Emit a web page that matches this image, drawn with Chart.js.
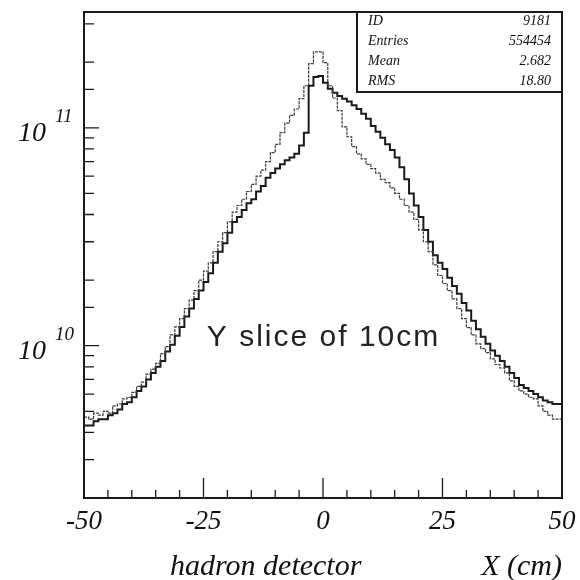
<!DOCTYPE html>
<html>
<head>
<meta charset="utf-8">
<script src="https://cdn.jsdelivr.net/npm/chart.js@4.4.1/dist/chart.umd.min.js"></script>
<style>
  html, body { margin: 0; padding: 0; background: #fff; }
</style>
</head>
<body>
<canvas id="chart" width="580" height="580"></canvas>
<script>
// 1 cm bins from -50 to 50
const binStart = -50
const binWidth = 1

// thin (dotted) histogram, sharp peak at 0
const sliceA = [
  4.5e9, 4.7e9, 4.6e9, 4.9e9, 4.8e9, 5.0e9, 4.9e9, 5.3e9, 5.4e9, 5.7e9,
  5.8e9, 6.1e9, 6.5e9, 6.8e9, 7.4e9, 7.8e9, 8.3e9, 9.2e9, 9.9e9, 1.12e10,
  1.22e10, 1.33e10, 1.48e10, 1.62e10, 1.79e10, 2.0e10, 2.2e10, 2.4e10, 2.7e10, 3.0e10,
  3.3e10, 3.7e10, 4.1e10, 4.4e10, 4.7e10, 5.1e10, 5.5e10, 6.0e10, 6.4e10, 7.0e10,
  7.7e10, 8.4e10, 9.5e10, 1.05e11, 1.14e11, 1.22e11, 1.36e11, 1.56e11, 1.97e11, 2.23e11,
  2.23e11, 1.99e11, 1.56e11, 1.37e11, 1.20e11, 1.01e11, 9.1e10, 8.2e10, 7.6e10, 7.2e10,
  6.8e10, 6.5e10, 6.2e10, 5.8e10, 5.6e10, 5.3e10, 5.0e10, 4.7e10, 4.4e10, 4.1e10,
  3.8e10, 3.4e10, 3.0e10, 2.7e10, 2.35e10, 2.1e10, 1.93e10, 1.79e10, 1.64e10, 1.48e10,
  1.33e10, 1.21e10, 1.12e10, 1.02e10, 9.7e9, 9.3e9, 8.7e9, 8.2e9, 7.9e9, 7.5e9,
  6.9e9, 6.5e9, 6.2e9, 6.0e9, 5.8e9, 5.7e9, 5.3e9, 5.0e9, 4.8e9, 4.6e9
]

// thick (solid) histogram, broader on the positive side
const sliceB = [
  4.1e9, 4.3e9, 4.3e9, 4.5e9, 4.6e9, 4.6e9, 4.8e9, 4.9e9, 5.1e9, 5.4e9,
  5.5e9, 5.8e9, 6.2e9, 6.5e9, 7.0e9, 7.5e9, 8.0e9, 8.5e9, 9.4e9, 1.01e10,
  1.11e10, 1.22e10, 1.36e10, 1.48e10, 1.64e10, 1.79e10, 1.96e10, 2.15e10, 2.4e10, 2.7e10,
  2.95e10, 3.3e10, 3.7e10, 3.9e10, 4.2e10, 4.5e10, 4.7e10, 5.1e10, 5.4e10, 5.9e10,
  6.2e10, 6.5e10, 6.8e10, 7.1e10, 7.3e10, 7.6e10, 8.3e10, 9.5e10, 1.56e11, 1.71e11,
  1.73e11, 1.61e11, 1.51e11, 1.45e11, 1.40e11, 1.36e11, 1.32e11, 1.27e11, 1.22e11, 1.16e11,
  1.10e11, 1.02e11, 9.6e10, 9.0e10, 8.4e10, 7.9e10, 7.3e10, 6.6e10, 5.8e10, 5.0e10,
  4.4e10, 3.9e10, 3.4e10, 3.0e10, 2.6e10, 2.4e10, 2.25e10, 2.05e10, 1.88e10, 1.73e10,
  1.57e10, 1.45e10, 1.30e10, 1.19e10, 1.10e10, 1.02e10, 9.5e9, 9.0e9, 8.5e9, 8.0e9,
  7.5e9, 7.1e9, 6.6e9, 6.4e9, 6.2e9, 6.0e9, 5.8e9, 5.6e9, 5.5e9, 5.4e9
]

const xTicks = [-50, -25, 0, 25, 50]
const statLabels = ['ID', 'Entries', 'Mean', 'RMS']
const statValues = ['9181', '554454', '2.682', '18.80']

// histogram as step line: one point per lower bin edge + closing edge
function steps(vals) {
  let pts = vals.map((v, i) => ({ x: binStart + i * binWidth, y: v }))
  pts.push({ x: binStart + vals.length * binWidth, y: vals[vals.length - 1] })
  return pts
}

function isDecade(v) {
  let l = Math.log10(v)
  return Math.abs(l - Math.round(l)) < 1e-6
}

const serif = '"Liberation Serif", "Times New Roman", serif'

const paw = {
  id: 'paw',
  afterDatasetsDraw(chart) {
    const { ctx, chartArea: a, scales: { x, y } } = chart
    ctx.save()
    ctx.strokeStyle = '#1a1a1a'
    ctx.fillStyle = '#111'

    // inward tick marks
    ctx.lineWidth = 1.3
    ctx.beginPath()
    x.ticks.forEach(t => {
      let px = x.getPixelForValue(t.value)
      let len = xTicks.includes(t.value) ? 20 : 8
      ctx.moveTo(px, a.bottom)
      ctx.lineTo(px, a.bottom - len)
    })
    y.ticks.forEach(t => {
      if (t.value <= y.min || t.value >= y.max) return
      let py = y.getPixelForValue(t.value)
      let len = isDecade(t.value) ? 15 : 10
      ctx.moveTo(a.left, py)
      ctx.lineTo(a.left + len, py)
    })
    ctx.stroke()

    // frame
    ctx.lineWidth = 2
    ctx.strokeRect(a.left, a.top, a.right - a.left, a.bottom - a.top)

    // y labels 10^n
    y.ticks.forEach(t => {
      if (!isDecade(t.value)) return
      let py = y.getPixelForValue(t.value)
      ctx.font = 'italic 28px ' + serif
      ctx.textAlign = 'right'
      ctx.textBaseline = 'alphabetic'
      ctx.fillText('10', 46, py + 13)
      ctx.font = 'italic 19px ' + serif
      ctx.textAlign = 'left'
      ctx.fillText(String(Math.round(Math.log10(t.value))), 55, py - 6)
    })

    // stats box
    let bx = a.right - 205, by = a.top, bw = 205, bh = 80
    ctx.lineWidth = 2
    ctx.strokeRect(bx, by, bw, bh)
    ctx.font = 'italic 14px ' + serif
    statLabels.forEach((s, i) => {
      ctx.textAlign = 'left'
      ctx.fillText(s, bx + 11, by + 13 + i * 20)
      ctx.textAlign = 'right'
      ctx.fillText(statValues[i], a.right - 11, by + 13 + i * 20)
    })

    // annotation
    ctx.font = '30px "Liberation Sans", Arial, sans-serif'
    ctx.fillStyle = '#222'
    ctx.textAlign = 'left'
    ctx.letterSpacing = '2px'
    ctx.fillText('Y slice of 10cm', x.getPixelForValue(-24.3), y.getPixelForValue(1e10))
    ctx.letterSpacing = '0px'

    // axis titles
    ctx.fillStyle = '#111'
    ctx.font = 'italic 30px ' + serif
    ctx.fillText('hadron detector', 170, 575)
    ctx.textAlign = 'right'
    ctx.fillText('X (cm)', a.right, 575)
    ctx.restore()
  }
}

let ctx = document.getElementById('chart').getContext('2d')
let chart = new Chart(ctx, {
  type: 'line',
  data: {
    datasets: [
      {
        label: 'slice A',
        data: steps(sliceA),
        stepped: 'after',
        borderColor: '#3a3a3a',
        borderWidth: 1.2,
        borderDash: [3, 1],
        pointRadius: 0,
        fill: false
      },
      {
        label: 'slice B',
        data: steps(sliceB),
        stepped: 'after',
        borderColor: '#1a1a1a',
        borderWidth: 2,
        pointRadius: 0,
        fill: false
      }
    ]
  },
  options: {
    responsive: false,
    animation: false,
    layout: { padding: { left: 0, right: 18, top: 12, bottom: 0 } },
    plugins: { legend: { display: false }, tooltip: { enabled: false } },
    scales: {
      x: {
        type: 'linear',
        min: -50,
        max: 50,
        grid: { display: false, drawTicks: false },
        border: { display: false },
        afterFit: s => {
          s.height = 82
          s.paddingLeft = 0
          s.paddingRight = 0
        },
        ticks: {
          stepSize: 5,
          autoSkip: false,
          maxRotation: 0,
          padding: 8,
          color: '#111',
          font: { family: serif, style: 'italic', size: 27 },
          callback: v => (xTicks.includes(v) ? String(v) : '')
        }
      },
      y: {
        type: 'logarithmic',
        min: 2e9,
        max: 3.4e11,
        grid: { display: false, drawTicks: false },
        border: { display: false },
        afterFit: s => { s.width = 84 },
        ticks: { display: false }
      }
    }
  },
  plugins: [paw]
})
</script>
</body>
</html>
